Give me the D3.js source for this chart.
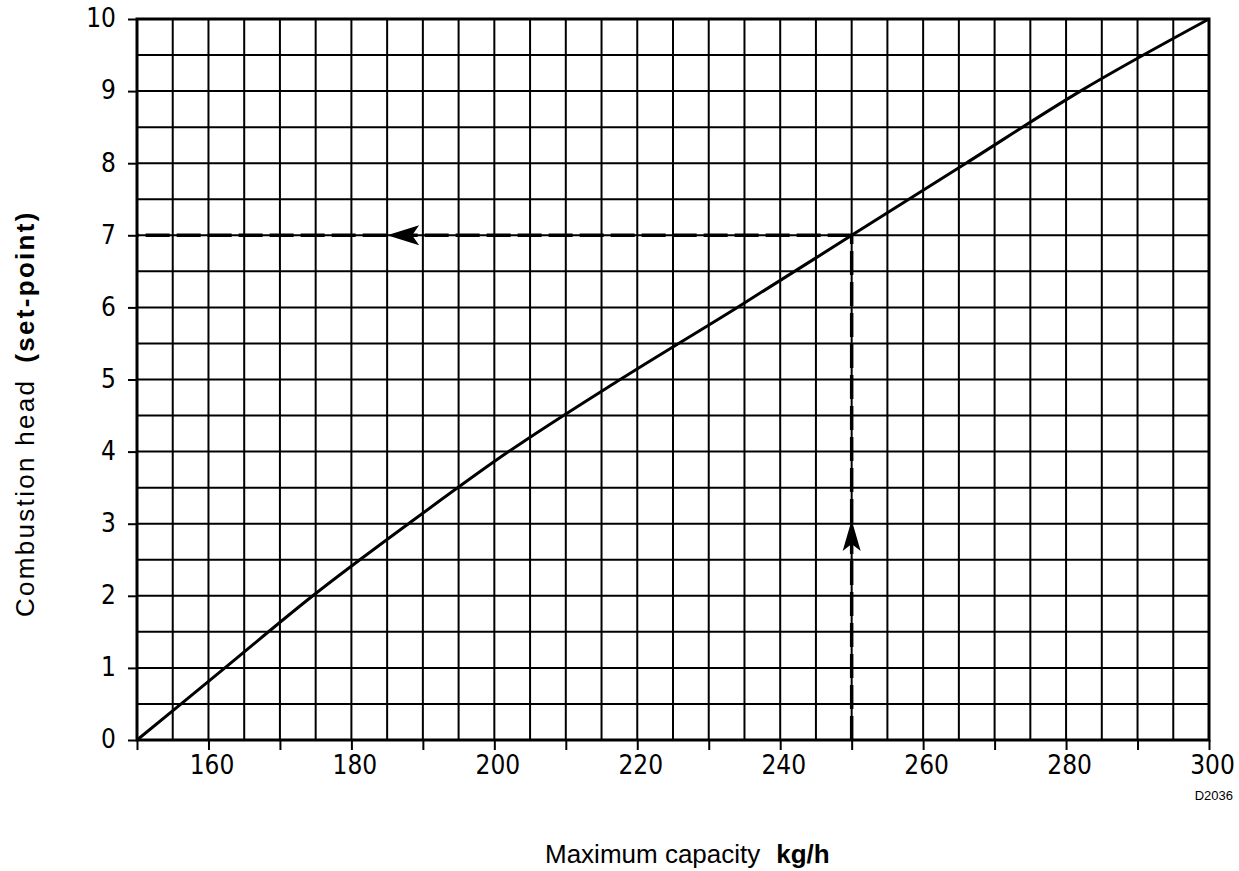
<!DOCTYPE html>
<html><head><meta charset="utf-8">
<script src="https://cdn.jsdelivr.net/npm/d3@7"></script>
<style>body{margin:0;background:#fff;} svg{display:block;}</style>
</head><body>
<svg id="c" width="1239" height="871"></svg>
<script>
// Data
const capacity = [150, 162.3, 174.6, 188, 202, 217.6, 234, 250, 266, 282, 300];
const head     = [0, 1, 2, 3, 4, 5, 6, 7, 8, 9, 10];
const xTickLabels = [160, 180, 200, 220, 240, 260, 280, 300];
const yTickLabels = [0, 1, 2, 3, 4, 5, 6, 7, 8, 9, 10];
const exampleCapacity = 250;
const exampleHead = 7;
const arrowUpHead = 3.05;
const arrowLeftCapacity = 185;

const svg = d3.select("#c");
const m = {left: 137, right: 30, top: 19, bottom: 131};
const W = 1239, H = 871;
const x = d3.scaleLinear().domain([150, 300]).range([m.left, W - m.right]);
const y = d3.scaleLinear().domain([0, 10]).range([H - m.bottom, m.top]);
const tickFont = "Liberation Sans Narrow, DejaVu Sans Condensed, sans-serif";

const g = svg.append("g");
// grid
const vx = d3.range(150, 300.1, 5);
const hy = d3.range(0, 10.01, 0.5);
g.selectAll(".vg").data(vx).join("line")
  .attr("x1", d => x(d)).attr("x2", d => x(d))
  .attr("y1", y(0)).attr("y2", y(10))
  .attr("stroke", "#000").attr("stroke-width", 2);
g.selectAll(".hg").data(hy).join("line")
  .attr("x1", x(150)).attr("x2", x(300))
  .attr("y1", d => y(d)).attr("y2", d => y(d))
  .attr("stroke", "#000").attr("stroke-width", 2);
g.append("rect").attr("x", x(150)).attr("y", y(10))
  .attr("width", x(300) - x(150)).attr("height", y(0) - y(10))
  .attr("fill", "none").attr("stroke", "#000").attr("stroke-width", 3);

// axes with ticks outside
const xAxis = d3.axisBottom(x).tickValues(d3.range(150, 300.1, 10)).tickSize(10)
  .tickFormat(d => xTickLabels.includes(d) ? d : "").tickPadding(6);
const gx = svg.append("g").attr("transform", `translate(0,${y(0)})`).call(xAxis);
gx.select(".domain").remove();
gx.selectAll("line").attr("stroke", "#000").attr("stroke-width", 2);
gx.selectAll("text").attr("font-family", tickFont).attr("font-size", 26)
  .attr("fill", "#000").attr("dx", 3);

const yAxis = d3.axisLeft(y).tickValues(yTickLabels).tickSize(9).tickPadding(12);
const gy = svg.append("g").attr("transform", `translate(${x(150)},0)`).call(yAxis);
gy.select(".domain").remove();
gy.selectAll("line").attr("stroke", "#000").attr("stroke-width", 2);
gy.selectAll("text").attr("font-family", tickFont).attr("font-size", 26)
  .attr("fill", "#000").attr("dy", "0.3em");

// curve
const pts = capacity.map((c, i) => [c, head[i]]);
const line = d3.line().x(d => x(d[0])).y(d => y(d[1])).curve(d3.curveMonotoneX);
svg.append("path").datum(pts).attr("d", line)
  .attr("fill", "none").attr("stroke", "#000").attr("stroke-width", 3);

// dashed guide lines
svg.append("line")
  .attr("x1", x(exampleCapacity)).attr("x2", x(150))
  .attr("y1", y(exampleHead)).attr("y2", y(exampleHead))
  .attr("stroke", "#000").attr("stroke-width", 3.5).attr("stroke-dasharray", "24,7");
svg.append("line")
  .attr("x1", x(exampleCapacity)).attr("x2", x(exampleCapacity))
  .attr("y1", y(0)).attr("y2", y(exampleHead))
  .attr("stroke", "#000").attr("stroke-width", 3.5).attr("stroke-dasharray", "24,7");

// arrowheads
const ax = x(arrowLeftCapacity), ay = y(exampleHead);
svg.append("path")
  .attr("d", `M${ax},${ay} L${ax+32},${ay-10} L${ax+25},${ay} L${ax+32},${ay+10} Z`)
  .attr("fill", "#000");
const ux = x(exampleCapacity), uy = y(arrowUpHead);
svg.append("path")
  .attr("d", `M${ux},${uy} L${ux-9},${uy+31} L${ux},${uy+24} L${ux+9},${uy+31} Z`)
  .attr("fill", "#000");

// titles
const xt = svg.append("text").attr("x", 545).attr("y", 863).attr("text-anchor", "start")
  .attr("font-family", "Liberation Sans, Arial").attr("font-size", 26).attr("fill", "#000");
xt.append("tspan").text("Maximum capacity");
xt.append("tspan").attr("dx", 16).attr("font-weight", "bold").text("kg/h");

const yt = svg.append("text").attr("transform", "translate(34,617) rotate(-90)")
  .attr("text-anchor", "start").attr("letter-spacing", 2.3)
  .attr("font-family", "Liberation Sans, Arial").attr("font-size", 26).attr("fill", "#000");
yt.append("tspan").text("Combustion head");
yt.append("tspan").attr("dx", 16).attr("font-weight", "bold").text("(set-point)");

svg.append("text").attr("x", 1233).attr("y", 800).attr("text-anchor", "end")
  .attr("font-family", "Liberation Sans, Arial").attr("font-size", 13).attr("fill", "#000")
  .text("D2036");
</script>
</body></html>
